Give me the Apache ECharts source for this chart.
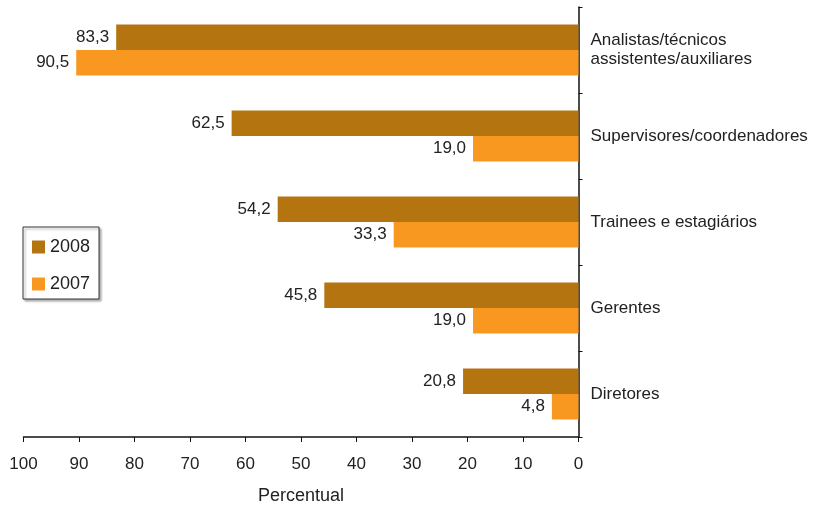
<!DOCTYPE html>
<html lang="pt">
<head>
    <meta charset="UTF-8">
    <script src="https://cdn.jsdelivr.net/npm/echarts@6/dist/echarts.min.js"></script>
</head>
<body style="margin:0">
<div id="chart" style="width: 814px;height: 510px"></div>
<script>
    var categories = ['Analistas/técnicos\nassistentes/auxiliares', 'Supervisores/coordenadores',
        'Trainees e estagiários', 'Gerentes', 'Diretores'];
    var values2008 = [83.3, 62.5, 54.2, 45.8, 20.8];
    var values2007 = [90.5, 19.0, 33.3, 19.0, 4.8];
    var xTicks = [0, 10, 20, 30, 40, 50, 60, 70, 80, 90, 100];

    var font = 'Liberation Sans, Arial, sans-serif';
    var chart = echarts.init(document.getElementById('chart'));

    function fmt(p) {
        return p.value.toFixed(1).replace('.', ',');
    }

    var option = {
        animation: false,
        textStyle: {fontFamily: font},
        grid: {left: 23.5, right: 235.5, top: 7, bottom: 72, containLabel: false},
        legend: {
            orient: 'vertical',
            left: 23,
            top: 227,
            data: ['2008', '2007'],
            itemWidth: 13,
            itemHeight: 13,
            itemGap: 19,
            padding: [11, 9, 6, 9],
            borderColor: '#333',
            borderWidth: 1,
            shadowColor: 'rgba(0,0,0,0.3)',
            shadowOffsetX: 2,
            shadowOffsetY: 2,
            shadowBlur: 2,
            backgroundColor: '#fff',
            icon: 'rect',
            textStyle: {fontSize: 18, color: '#222', fontFamily: font}
        },
        xAxis: {
            type: 'value',
            inverse: true,
            min: xTicks[0],
            max: xTicks[xTicks.length - 1],
            interval: 10,
            name: 'Percentual',
            nameLocation: 'middle',
            nameGap: 50,
            nameTextStyle: {fontSize: 18, color: '#222', fontFamily: font},
            axisLine: {show: true, lineStyle: {color: '#111', width: 1.5}},
            axisTick: {show: true, length: 5, lineStyle: {color: '#111'}},
            axisLabel: {fontSize: 17, color: '#222', margin: 19, fontFamily: font},
            splitLine: {show: false}
        },
        yAxis: {
            type: 'category',
            position: 'right',
            inverse: true,
            data: categories,
            axisLine: {show: true, lineStyle: {color: '#111', width: 1.5}},
            axisTick: {show: true, length: 4, lineStyle: {color: '#111'}},
            axisLabel: {fontSize: 17, color: '#222', margin: 12, align: 'left', lineHeight: 19, fontFamily: font}
        },
        series: [{
            name: '2008',
            type: 'bar',
            data: values2008,
            barGap: '0%',
            barCategoryGap: '40.7%',
            itemStyle: {color: '#B47410'},
            label: {show: true, position: 'left', distance: 7, formatter: fmt, fontSize: 17, color: '#222'}
        }, {
            name: '2007',
            type: 'bar',
            data: values2007,
            itemStyle: {color: '#F89820'},
            label: {show: true, position: 'left', distance: 7, formatter: fmt, fontSize: 17, color: '#222'}
        }]
    };
    chart.setOption(option);
</script>
</body>
</html>
